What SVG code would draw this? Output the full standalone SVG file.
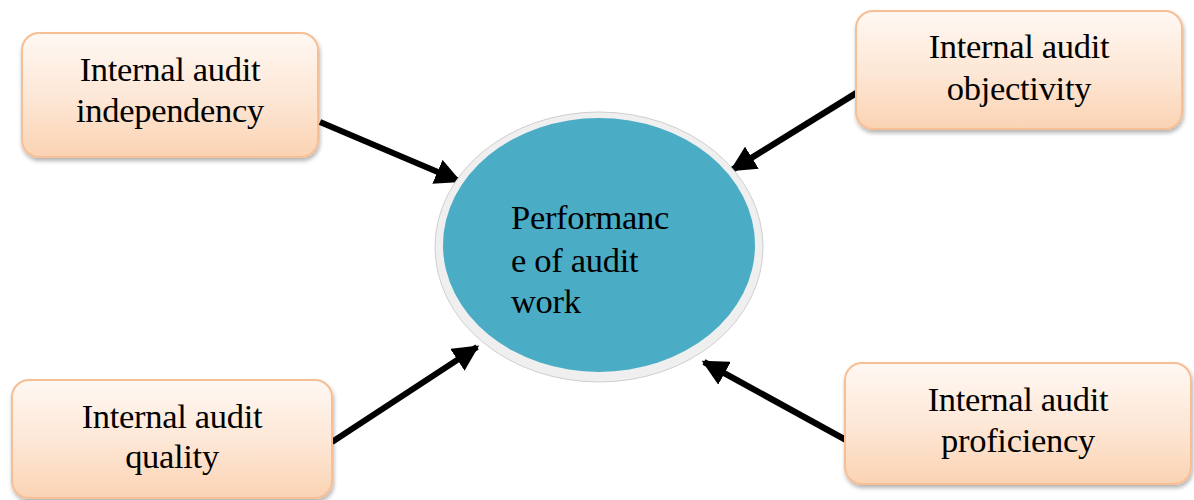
<svg xmlns="http://www.w3.org/2000/svg" width="1194" height="500" viewBox="0 0 1194 500">
  <defs>
    <linearGradient id="boxFill" x1="0" y1="0" x2="0" y2="1">
      <stop offset="0" stop-color="#fff8f3"/>
      <stop offset="0.55" stop-color="#fde6d4"/>
      <stop offset="1" stop-color="#fbd3b3"/>
    </linearGradient>
    <filter id="softShadow" x="-5%" y="-5%" width="110%" height="120%">
      <feGaussianBlur in="SourceAlpha" stdDeviation="2"/>
      <feOffset dx="1" dy="3" result="blur"/>
      <feComponentTransfer><feFuncA type="linear" slope="0.3"/></feComponentTransfer>
      <feMerge><feMergeNode/><feMergeNode in="SourceGraphic"/></feMerge>
    </filter>
    <marker id="arrowHead" viewBox="0 0 10 10" refX="9" refY="5" markerWidth="4.2" markerHeight="4.2" markerUnits="strokeWidth" orient="auto">
      <path d="M0,0 L10,5 L0,10 Z" fill="#000"/>
    </marker>
  </defs>
  <style>
    .box { fill: url(#boxFill); stroke: #f6bf95; stroke-width: 2; filter: url(#softShadow); }
    .label { font-family: "Liberation Serif", "DejaVu Serif", serif; font-size: 34.5px; fill: #000; letter-spacing: -0.3px; }
    .mid { text-anchor: middle; }
    .link { stroke: #000; stroke-width: 6.2; fill: none; marker-end: url(#arrowHead); }
  </style>

  <g id="connectors">
    <line class="link" x1="320" y1="122" x2="459" y2="181"/>
    <line class="link" x1="858" y1="92" x2="732" y2="170"/>
    <line class="link" x1="332" y1="442" x2="477" y2="347"/>
    <line class="link" x1="846" y1="440" x2="704" y2="362"/>
  </g>

  <g id="performance">
    <ellipse cx="599" cy="247" rx="164" ry="135" fill="#efefef" stroke="#cfcfcf" stroke-width="1"/>
    <ellipse cx="599" cy="245" rx="156" ry="127" fill="#4bacc6"/>
    <text class="label" x="511" y="229">Performanc</text>
    <text class="label" x="511" y="272">e of audit</text>
    <text class="label" x="511" y="313">work</text>
  </g>

  <g id="independency">
    <rect class="box" x="22" y="33" width="296" height="124" rx="17"/>
    <text class="label mid" x="170" y="81">Internal audit</text>
    <text class="label mid" x="170" y="122">independency</text>
  </g>

  <g id="objectivity">
    <rect class="box" x="856" y="11" width="326" height="118" rx="17"/>
    <text class="label mid" x="1019" y="58">Internal audit</text>
    <text class="label mid" x="1019" y="100">objectivity</text>
  </g>

  <g id="quality">
    <rect class="box" x="12" y="380" width="320" height="118" rx="17"/>
    <text class="label mid" x="172" y="428">Internal audit</text>
    <text class="label mid" x="172" y="468">quality</text>
  </g>

  <g id="proficiency">
    <rect class="box" x="845" y="363" width="346" height="121" rx="17"/>
    <text class="label mid" x="1018" y="411">Internal audit</text>
    <text class="label mid" x="1018" y="452">proficiency</text>
  </g>
</svg>
